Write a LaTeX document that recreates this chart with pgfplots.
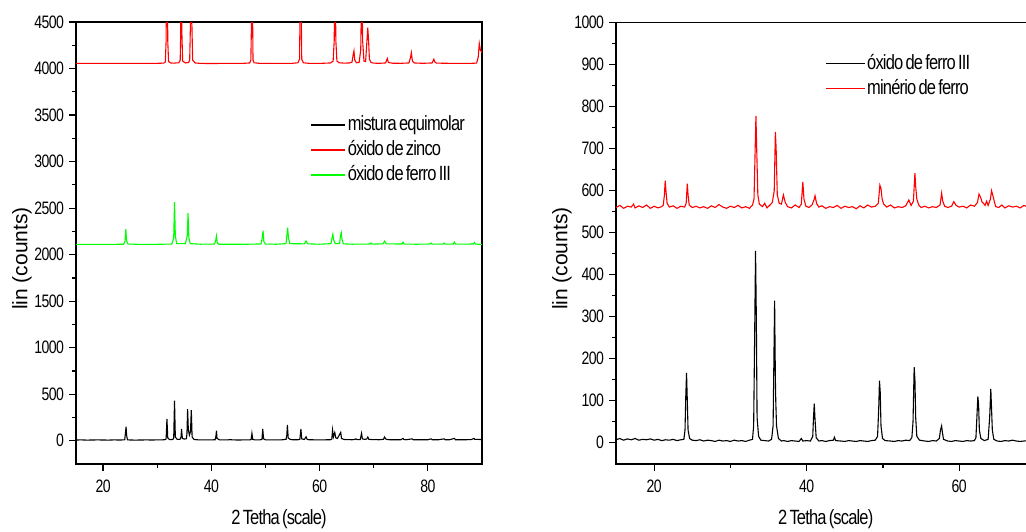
\documentclass[border=0pt]{standalone}
\usepackage{fontspec}
\setmainfont{Liberation Sans}
\newfontfamily\cond{Liberation Sans}[FakeStretch=0.8, LetterSpace=-4, WordSpace=0.6]
\newfontfamily\condtick{Liberation Sans}[FakeStretch=0.78, LetterSpace=-3]
\usepackage{pgfplots}
\pgfplotsset{compat=1.18}
\pgfplotsset{xrdax/.style={
  scale only axis,
  tick align=outside, xtick pos=bottom, ytick pos=left,
  minor x tick num=1, minor y tick num=1,
  major tick length=3.5pt, minor tick length=2pt,
  axis line style={line width=0.8pt},
  tick style={line width=0.6pt, black},
  tick label style={font=\condtick\fontsize{9}{10}\selectfont},
  xticklabel style={yshift=-1pt},
  yticklabel style={xshift=1pt},
  /pgf/number format/assume math mode=true,
  /pgf/number format/1000 sep={},
  xlabel={2 Tetha (scale)}, ylabel={lin (counts)},
  every axis x label/.style={at={(rel axis cs:0.5,0)}, yshift=-27.5pt, anchor=center, font=\cond\fontsize{10.3}{12}\selectfont},
  every axis y label/.style={at={(rel axis cs:0,0.465)}, xshift=-27pt, rotate=90, anchor=center, font=\fontsize{10.5}{12}\selectfont},
  legend cell align=left,
  every axis plot/.append style={line width=0.55pt},
}}
\begin{document}
\begin{tikzpicture}
\begin{axis}[xrdax, name=left,
  at={(38pt,33.5pt)}, anchor=south west,
  width=203pt, height=221pt,
  xmin=15, xmax=90, ymin=-250, ymax=4500,
  xtick={20,40,60,80}, ytick={0,500,...,4500},
  legend style={at={(rel axis cs:0.562,0.803)}, anchor=north west, draw=none, fill=none,
    font=\cond\fontsize{10.3}{12}\selectfont, row sep=1pt,
    nodes={inner sep=1pt, text height=7.5pt, text depth=2pt}},
]
\addplot[black] coordinates {
(15,8)(16,9)(17,7)(18,8)(19,9)(20,8)(21,7)(22,9)(23,8)(23.9,9)
(24.0,12)(24.15,90)(24.25,150)(24.35,60)(24.5,10)
(25,8)(26,7)(27,8)(28,9)(29,8)(30,9)(31,10)(31.5,12)
(31.65,20)(31.8,235)(31.95,30)
(32.3,12)(32.9,14)
(33.05,30)(33.2,430)(33.35,40)
(33.7,15)(34.2,14)
(34.4,40)(34.5,126)(34.65,25)
(35.0,18)(35.4,22)
(35.5,80)(35.62,340)(35.75,120)(35.95,60)
(36.15,100)(36.3,330)(36.45,40)
(36.8,14)(37.5,10)(38,9)(39,9)(40,9)(40.7,11)
(40.85,50)(40.95,108)(41.05,25)
(41.5,10)(42,9)(43,9)(43.5,12)(44,9)(45,8)(46,9)(47,9)(47.35,12)
(47.5,80)(47.65,15)
(48,9)(49,10)(49.35,14)
(49.5,126)(49.65,20)
(50,10)(51,9)(52,9)(53,10)(53.8,15)
(53.95,60)(54.05,169)(54.2,30)
(54.6,14)(55,11)(56,11)(56.35,15)
(56.55,126)(56.7,20)
(57.2,14)(57.5,43)(57.7,15)
(58,11)(59,10)(60,10)(61,10)(62,11)(62.25,18)
(62.4,115)(62.55,40)(62.8,88)(63.0,30)(63.3,25)
(63.9,90)(64.05,25)
(64.5,14)(65,12)(66,11)(66.5,14)(66.7,20)(66.9,12)(67.5,12)
(67.75,80)(67.9,20)
(68.3,15)(68.7,18)(68.9,40)(69.1,16)(69.5,13)(70,12)(71,11)(71.8,15)(72.0,40)(72.2,20)(72.6,12)(73,11)(74,11)(75,11)(75.4,25)(75.6,12)(76,11)(77.1,20)(77.3,11)(78,11)(79,11)(80,11)(80.6,20)(80.8,11)(82,11)(83,20)(83.2,11)(84,11)(84.9,25)(85.1,11)(86,11)(87,11)(88,12)(88.5,25)(88.7,14)(89.5,14)(90,12)
};
\addplot[red] coordinates {
(15,4055)(20,4056)(25,4055)(30,4056)(31.2,4058)(31.5,4070)(31.65,4300)(31.8,6000)(31.95,4300)(32.1,4075)(32.5,4060)(33,4058)(34.0,4062)(34.25,4090)(34.35,4400)(34.45,5400)(34.55,4400)(34.7,4080)(35.2,4060)(35.8,4065)(36.0,4090)(36.15,4500)(36.25,7000)(36.4,4500)(36.55,4090)(37,4060)(38,4055)(40,4054)(42,4055)(44,4055)(46,4056)(47.1,4060)(47.3,4090)(47.45,4600)(47.55,5000)(47.7,4090)(47.9,4062)(49,4055)(51,4055)(53,4055)(55,4056)(56.0,4062)(56.3,4100)(56.5,5300)(56.7,4100)(57,4062)(58,4056)(60,4055)(62,4060)(62.5,4080)(62.7,4300)(62.85,5200)(63.0,4300)(63.2,4080)(63.6,4062)(64.5,4058)(65.5,4060)(66.0,4070)(66.2,4150)(66.35,4190)(66.5,4090)(66.8,4062)(67.3,4065)(67.6,4200)(67.8,5000)(67.95,4300)(68.2,4080)(68.5,4075)(68.75,4300)(68.9,4440)(69.05,4300)(69.2,4100)(69.5,4065)(70,4058)(71,4056)(72.2,4060)(72.5,4108)(72.7,4065)(73.5,4057)(75,4056)(76.5,4060)(76.8,4120)(76.95,4170)(77.15,4080)(77.5,4060)(79,4056)(80.8,4060)(81.1,4100)(81.3,4070)(81.6,4058)(84,4056)(86,4056)(88,4056)(89,4058)(89.3,4120)(89.5,4270)(89.7,4200)(90,4170)
};
\addplot[green] coordinates {
(15,2110)(18,2111)(21,2110)(23.8,2112)(24.05,2140)(24.2,2273)(24.35,2150)(24.6,2114)(27,2110)(30,2111)(32.7,2114)(33.05,2180)(33.2,2563)(33.35,2200)(33.6,2118)(35.2,2118)(35.55,2200)(35.7,2445)(35.85,2180)(36.1,2118)(38,2112)(40.6,2114)(40.8,2150)(40.95,2200)(41.1,2125)(41.4,2112)(44,2112)(46,2111)(49.2,2115)(49.4,2180)(49.55,2258)(49.7,2140)(50,2113)(52,2112)(53.8,2118)(53.95,2200)(54.1,2290)(54.25,2180)(54.5,2118)(57.2,2116)(57.5,2147)(57.8,2116)(60,2112)(62.1,2118)(62.3,2180)(62.45,2219)(62.6,2160)(62.9,2118)(63.7,2120)(63.85,2200)(64.0,2236)(64.15,2160)(64.4,2116)(66,2112)(69.3,2114)(69.5,2125)(69.7,2113)(71.7,2116)(72.0,2145)(72.3,2116)(75.2,2114)(75.4,2135)(75.6,2113)(78,2112)(80.4,2114)(80.6,2125)(80.8,2113)(82.8,2113)(83.0,2125)(83.2,2113)(84.7,2114)(84.9,2135)(85.1,2113)(88.4,2114)(88.6,2130)(88.8,2113)(90,2110)
};
\legend{mistura equimolar, óxido de zinco, óxido de ferro III}
\end{axis}
\begin{axis}[xrdax, name=right,
  at={(308pt,33.65pt)}, anchor=south west,
  width=209.7pt, height=220.5pt,
  xmin=15, xmax=70, ymin=-50, ymax=1000,
  xtick={20,40,60}, ytick={0,100,...,1000},
  legend image code/.code={\draw[#1] (0cm,0cm) -- (0.68cm,0cm);},
  legend style={at={(rel axis cs:0.484,0.943)}, anchor=north west, draw=none, fill=none,
    font=\cond\fontsize{10.3}{12}\selectfont, row sep=1pt,
    nodes={inner sep=1pt, text height=7.5pt, text depth=2pt}},
]
\addplot[black] coordinates {
(15,7)(15.5,10)(16,6)(16.5,9)(17,7)(17.5,10)(18,6)(18.5,8)(19,7)(19.5,9)(20,6)(20.5,8)(21,5)(21.5,7)(22,6)(22.5,8)(23,5)(23.5,7)(23.9,8)
(24.05,30)(24.15,110)(24.25,166)(24.35,100)(24.45,30)(24.65,10)
(25,6)(25.5,5)(26,7)(26.5,4)(27,6)(27.5,5)(28,3)(28.5,6)(29,4)(29.5,5)(30,3)(30.5,6)(31,4)(31.5,5)(32,3)(32.5,6)(32.9,8)
(33.05,40)(33.15,200)(33.3,457)(33.4,300)(33.5,60)(33.7,15)(34,6)
(34.5,5)(35,4)(35.4,8)
(35.6,40)(35.72,220)(35.8,338)(35.9,150)(35.95,100)(36.05,40)(36.3,10)
(36.7,4)(37,5)(37.5,3)(38,5)(38.5,4)(39,3)(39.3,10)(39.5,4)(40,5)(40.5,4)(40.8,15)
(40.9,60)(41.0,93)(41.1,55)(41.25,12)
(41.6,4)(42,5)(42.5,3)(43,5)(43.5,6)(43.65,13)(43.8,5)(44.5,4)(45,3)(45.5,5)(46,4)(46.5,3)(47,5)(47.5,4)(48,3)(48.5,5)(49,6)(49.3,15)
(49.45,80)(49.55,148)(49.65,120)(49.75,40)(49.95,10)
(50.3,5)(51,4)(51.5,3)(52,5)(52.5,4)(53,6)(53.5,5)(53.8,12)
(53.95,50)(54.1,180)(54.2,150)(54.3,60)(54.45,15)
(54.8,6)(55.5,4)(56,3)(56.5,5)(57,4)(57.4,10)
(57.55,30)(57.7,40)(57.8,25)(57.95,8)
(58.5,4)(59,3)(59.5,5)(60,4)(60.5,3)(61,5)(61.5,4)(62,5)(62.2,12)
(62.35,70)(62.45,110)(62.55,90)(62.65,30)(62.85,10)
(63.3,5)(63.8,8)(64.0,60)(64.15,128)(64.25,80)(64.35,30)(64.55,8)
(65,4)(65.5,3)(66,5)(66.5,4)(67,6)(67.5,4)(68,3)(68.5,4)(69,5)(69.5,3)(70,4)
};
\addplot[red] coordinates {
(15,560)(15.5,565)(16,558)(16.5,563)(17,561)(17.3,568)(17.5,559)(18,564)(18.5,560)(19,566)(19.5,558)(20,563)(20.5,559)(21,562)(21.2,566)
(21.35,590)(21.45,624)(21.55,600)(21.7,570)(22,561)
(22.5,564)(23,558)(23.5,563)(24,561)(24.2,570)(24.35,617)(24.45,590)(24.6,566)(25,560)
(25.5,563)(26,559)(26.5,562)(27,558)(27.5,564)(28,560)(28.5,567)(29,561)(29.5,558)(30,563)(30.5,560)(31,565)(31.5,559)(32,562)(32.5,558)(32.9,566)
(33.1,580)(33.25,700)(33.35,778)(33.45,700)(33.6,590)(33.8,568)(34.2,562)(34.5,570)(34.8,559)(35.2,566)(35.5,572)
(35.75,600)(35.9,740)(36.0,700)(36.15,590)(36.4,570)(36.7,568)(36.95,590)(37.2,572)(37.5,562)(38,559)(38.5,566)(39,560)(39.3,568)(39.5,621)(39.65,580)(39.9,563)(40.3,560)(40.7,566)(41.0,580)(41.1,588)(41.3,570)(41.6,561)(42,564)(42.5,558)(43,562)(43.5,560)(44,565)(44.5,558)(45,563)(45.5,560)(46,562)(46.5,557)(47,564)(47.5,559)(48,566)(48.5,561)(49,563)(49.4,570)(49.6,613)(49.75,605)(49.9,580)(50.1,568)(50.5,561)(51,566)(51.5,559)(52,562)(52.5,560)(53,564)(53.4,578)(53.7,565)(54.0,575)(54.2,642)(54.3,610)(54.45,580)(54.7,566)(55,560)(55.5,563)(56,559)(56.5,562)(57,560)(57.5,566)(57.7,594)(57.85,575)(58.1,563)(58.5,560)(59,563)(59.3,574)(59.6,565)(60,561)(60.5,563)(61,559)(61.5,566)(62,563)(62.4,572)(62.6,592)(62.8,585)(63.0,573)(63.2,570)(63.4,565)(63.6,575)(63.8,565)(64.1,580)(64.25,600)(64.4,590)(64.6,575)(64.8,562)(65.2,560)(65.6,566)(66,559)(66.5,564)(67,561)(67.5,563)(68,559)(68.5,565)(69,561)(69.5,564)(70,562)
};
\legend{óxido de ferro III, minério de ferro}
\end{axis}
\pgfresetboundingbox
\useasboundingbox (0,0) rectangle (513pt,265.5pt);
\end{tikzpicture}
\end{document}
